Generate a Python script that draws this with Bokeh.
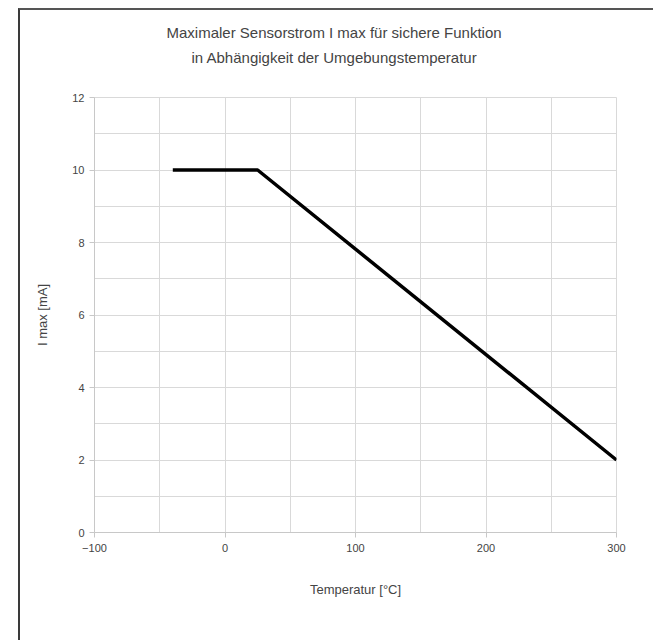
from bokeh.plotting import figure
from bokeh.models import Title, FixedTicker
from bokeh.embed import file_html
from bokeh.resources import INLINE

# Data
temperature = [-40, 25, 300]
i_max = [10, 10, 2]

x_major = [-100, 0, 100, 200, 300]
x_minor = [-50, 50, 150, 250]
y_major = [0, 2, 4, 6, 8, 10, 12]
y_minor = [1, 3, 5, 7, 9, 11]

title_line1 = "Maximaler Sensorstrom I max für sichere Funktion"
title_line2 = "in Abhängigkeit der Umgebungstemperatur"

FONT = "Liberation Sans"
TXT = "#444444"
GRID = "#d9d9d9"

p = figure(frame_width=522, frame_height=435,
           x_range=(-100, 300), y_range=(0, 12),
           output_backend="svg", toolbar_location=None,
           min_border_left=74, min_border_right=44,
           min_border_top=87, min_border_bottom=108,
           background_fill_color="white", border_fill_color="white")
p.title.visible = False
p.margin = (8, 0, 0, 18)
p.styles = {"border-left": "2px solid #3a3a3a",
            "border-top": "2px solid #555555", "border-right": "2px solid #777777"}

spacer = Title(text=" ", text_font=FONT, text_font_size="15px", standoff=13)
t2 = Title(text=title_line2, align="left", offset=97, text_font=FONT,
           text_font_size="15px", text_font_style="normal", text_color=TXT, standoff=0)
t1 = Title(text=title_line1, align="left", offset=72, text_font=FONT,
           text_font_size="15px", text_font_style="normal", text_color=TXT, standoff=12)
p.add_layout(spacer, "above")
p.add_layout(t2, "above")
p.add_layout(t1, "above")

p.line(temperature, i_max, line_color="black", line_width=3.5)

p.xaxis.ticker = FixedTicker(ticks=x_major, minor_ticks=x_minor)
p.yaxis.ticker = FixedTicker(ticks=y_major, minor_ticks=y_minor)

for ax in (p.xaxis[0], p.yaxis[0]):
    ax.axis_line_color = "#c8c8c8"
    ax.major_tick_line_color = "#c8c8c8"
    ax.major_tick_out = 5
    ax.major_tick_in = 0
    ax.minor_tick_line_color = None
    ax.major_label_text_font = FONT
    ax.major_label_text_font_size = "11px"
    ax.major_label_text_color = TXT
    ax.axis_label_text_font = FONT
    ax.axis_label_text_font_size = "13px"
    ax.axis_label_text_font_style = "normal"
    ax.axis_label_text_color = TXT

p.xaxis.axis_label = "Temperatur [°C]"
p.yaxis.axis_label = "I max [mA]"
p.xaxis.major_label_standoff = 6
p.xaxis.axis_label_standoff = 27
p.yaxis.major_label_standoff = 5
p.yaxis.axis_label_standoff = 19

for g in (p.xgrid[0], p.ygrid[0]):
    g.grid_line_color = GRID
    g.minor_grid_line_color = GRID
p.outline_line_color = GRID

open("out.html", "w").write(file_html(p, INLINE))
